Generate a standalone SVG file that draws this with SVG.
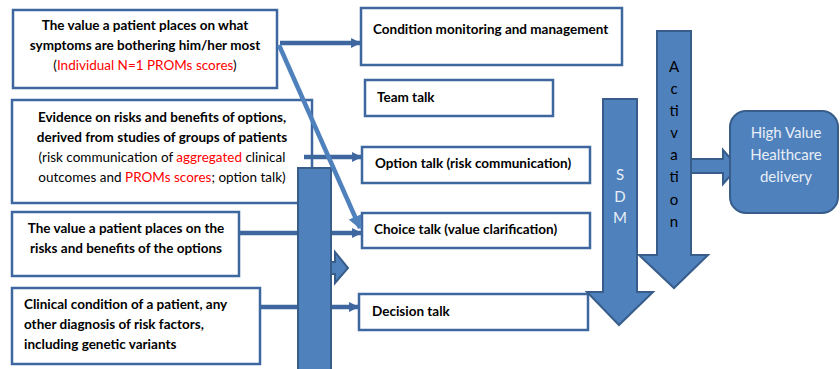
<svg xmlns="http://www.w3.org/2000/svg" width="840" height="369" viewBox="0 0 840 369">
<style>
.box{fill:#fff;stroke:#3E67A0;stroke-width:2.5}
.b{font-family:Lato,"Liberation Sans",sans-serif;font-weight:bold;font-size:13.5px;fill:#000}
.n{font-family:Lato,"Liberation Sans",sans-serif;font-size:13.5px;fill:#000}
.red{fill:#FF0000}
.blk{fill:#4F81BD;stroke:#385D8A;stroke-width:2}
.con{stroke:#3E67A0;stroke-width:4.5;fill:none}
.diag{stroke:#4F81BD;stroke-width:4.5;fill:none}
.lt{font-family:Lato,"Liberation Sans",sans-serif;font-size:15px;fill:#E8EEF6}
.dk{font-family:Lato,"Liberation Sans",sans-serif;font-size:15px;fill:#000}
</style>
<defs>
<marker id="ah" viewBox="0 0 10 10" refX="9" refY="5" markerWidth="2.2" markerHeight="2.6" orient="auto" markerUnits="strokeWidth">
<path d="M0,0 L10,5 L0,10 Z" fill="#3E67A0"/>
</marker>
<marker id="ah2" viewBox="0 0 10 10" refX="9" refY="5" markerWidth="3" markerHeight="3" orient="auto" markerUnits="strokeWidth">
<path d="M0,0 L10,5 L0,10 Z" fill="#4F81BD"/>
</marker>
</defs>

<g id="src1">
<rect class="box" x="13" y="10" width="264" height="78"/>
<text class="b" x="145" y="30" text-anchor="middle">The value a patient places on what</text>
<text class="b" x="145" y="50" text-anchor="middle">symptoms are bothering him/her most</text>
<text class="n" x="145" y="70" text-anchor="middle">(<tspan class="red">Individual N=1 PROMs scores</tspan>)</text>
</g>

<g id="src2">
<rect class="box" x="12" y="100" width="300" height="103"/>
<text class="b" x="162" y="122" text-anchor="middle">Evidence on risks and benefits of options,</text>
<text class="b" x="162" y="142" text-anchor="middle">derived from studies of groups of patients</text>
<text class="n" x="162" y="162" text-anchor="middle">(risk communication of <tspan class="red">aggregated</tspan> clinical</text>
<text class="n" x="162" y="182" text-anchor="middle">outcomes and <tspan class="red">PROMs scores</tspan>; option talk)</text>
</g>

<g id="src3">
<rect class="box" x="12" y="212" width="227" height="64"/>
<text class="b" x="126" y="233" text-anchor="middle">The value a patient places on the</text>
<text class="b" x="126" y="253" text-anchor="middle">risks and benefits of the options</text>
</g>

<g id="src4">
<rect class="box" x="12" y="288" width="248" height="76"/>
<text class="b" x="24" y="309">Clinical condition of a patient, any</text>
<text class="b" x="24" y="329">other diagnosis of risk factors,</text>
<text class="b" x="24" y="349">including genetic variants</text>
</g>

<g id="t1">
<rect class="box" x="361" y="8" width="261" height="57"/>
<text class="b" x="373" y="34">Condition monitoring and management</text>
</g>
<g id="t2">
<rect class="box" x="365" y="80" width="188" height="36"/>
<text class="b" x="377" y="102">Team talk</text>
</g>
<g id="t3">
<rect class="box" x="362" y="147" width="228" height="36"/>
<text class="b" x="375" y="168">Option talk (risk communication)</text>
</g>
<g id="t4">
<rect class="box" x="362" y="213" width="228" height="35"/>
<text class="b" x="374" y="234">Choice talk (value clarification)</text>
</g>
<g id="t5">
<rect class="box" x="359" y="294" width="229" height="36"/>
<text class="b" x="372" y="316">Decision talk</text>
</g>

<g id="connectors">
<line class="con" x1="280" y1="43" x2="360" y2="43" marker-end="url(#ah)"/>
<line class="con" x1="304" y1="157" x2="361" y2="157" marker-end="url(#ah)"/>
<line class="con" x1="239" y1="233" x2="361" y2="233" marker-end="url(#ah)"/>
<line class="con" x1="260" y1="307" x2="358" y2="307" marker-end="url(#ah)"/>
</g>

<g id="bar">
<rect class="blk" x="298" y="168" width="33" height="205"/>
<path class="blk" d="M331,262 L335,262 L335,252 L348,268 L335,283 L335,274 L331,274 Z"/>
</g>

<g id="diagonal">
<line class="diag" x1="279" y1="45" x2="360" y2="228" marker-end="url(#ah2)"/>
</g>

<g id="sdm">
<path class="blk" d="M603,99 L637,99 L637,292 L653,292 L619,325 L587,292 L603,292 Z"/>
<text class="lt" x="620" y="180" text-anchor="middle">S</text>
<text class="lt" x="620" y="202" text-anchor="middle">D</text>
<text class="lt" x="620" y="223" text-anchor="middle">M</text>
</g>

<g id="activation">
<path class="blk" d="M657,31 L691,31 L691,255 L708,255 L674,288 L639,255 L657,255 Z"/>
<text class="dk" x="674" y="72" text-anchor="middle">A</text>
<text class="dk" x="674" y="94" text-anchor="middle">c</text>
<text class="dk" x="674" y="116" text-anchor="middle">ti</text>
<text class="dk" x="674" y="138" text-anchor="middle">v</text>
<text class="dk" x="674" y="160" text-anchor="middle">a</text>
<text class="dk" x="674" y="182" text-anchor="middle">ti</text>
<text class="dk" x="674" y="205" text-anchor="middle">o</text>
<text class="dk" x="674" y="227" text-anchor="middle">n</text>
<path class="blk" d="M691,159 L723,159 L723,150 L738,167 L723,184 L723,173 L691,173 Z"/>
</g>

<g id="hvh">
<rect class="blk" x="730" y="111" width="108" height="102" rx="16"/>
<text class="lt" x="786" y="138" text-anchor="middle">High Value</text>
<text class="lt" x="786" y="160" text-anchor="middle">Healthcare</text>
<text class="lt" x="786" y="182" text-anchor="middle">delivery</text>
</g>
</svg>
